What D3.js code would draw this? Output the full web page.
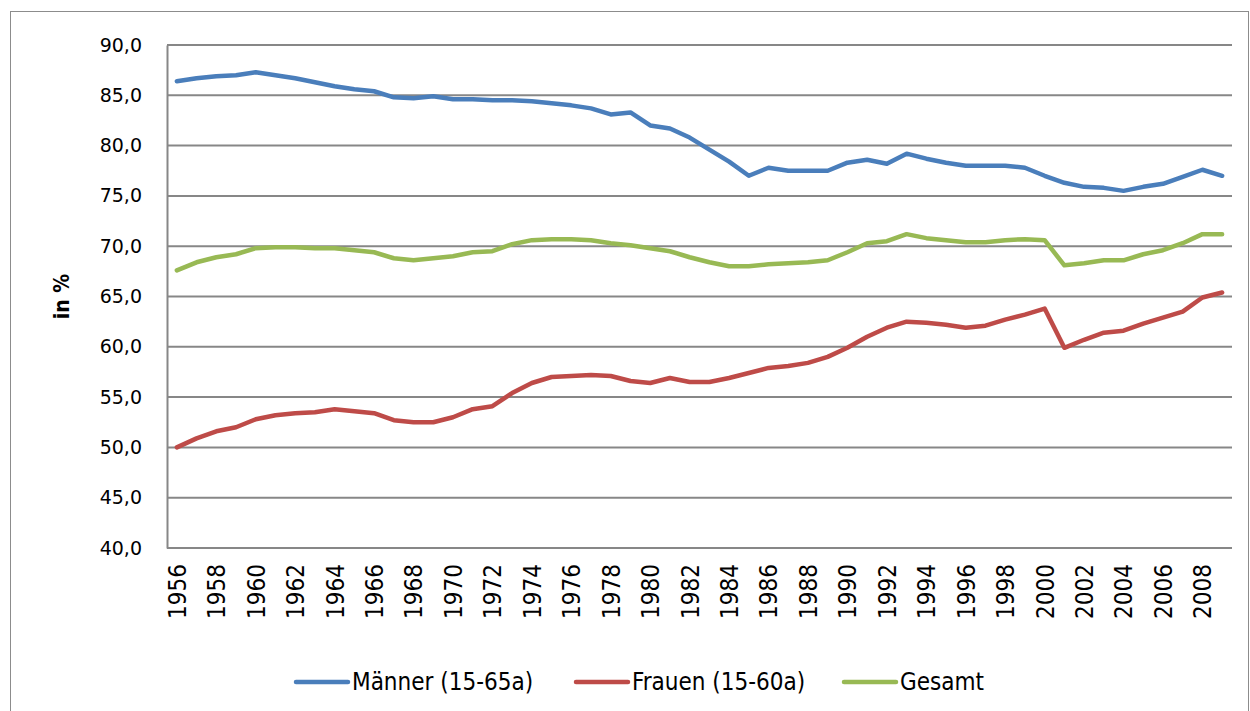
<!DOCTYPE html>
<html>
<head>
<meta charset="utf-8">
<script src="https://cdn.jsdelivr.net/npm/d3@7"></script>
<style>
  body { margin: 0; background: #fff; }
  svg { display: block; }
</style>
</head>
<body>
<div id="chart"></div>
<script>
// Erwerbsquoten 1956-2009
var years = d3.range(1956, 2010);

var maenner = [86.4, 86.7, 86.9, 87.0, 87.3, 87.0, 86.7, 86.3, 85.9, 85.6,
  85.4, 84.8, 84.7, 84.9, 84.6, 84.6, 84.5, 84.5, 84.4, 84.2,
  84.0, 83.7, 83.1, 83.3, 82.0, 81.7, 80.8, 79.6, 78.4, 77.0,
  77.8, 77.5, 77.5, 77.5, 78.3, 78.6, 78.2, 79.2, 78.7, 78.3,
  78.0, 78.0, 78.0, 77.8, 77.0, 76.3, 75.9, 75.8, 75.5, 75.9,
  76.2, 76.9, 77.6, 77.0];

var frauen = [50.0, 50.9, 51.6, 52.0, 52.8, 53.2, 53.4, 53.5, 53.8, 53.6,
  53.4, 52.7, 52.5, 52.5, 53.0, 53.8, 54.1, 55.4, 56.4, 57.0,
  57.1, 57.2, 57.1, 56.6, 56.4, 56.9, 56.5, 56.5, 56.9, 57.4,
  57.9, 58.1, 58.4, 59.0, 59.9, 61.0, 61.9, 62.5, 62.4, 62.2,
  61.9, 62.1, 62.7, 63.2, 63.8, 59.9, 60.7, 61.4, 61.6, 62.3,
  62.9, 63.5, 64.9, 65.4];

var gesamt = [67.6, 68.4, 68.9, 69.2, 69.8, 69.9, 69.9, 69.8, 69.8, 69.6,
  69.4, 68.8, 68.6, 68.8, 69.0, 69.4, 69.5, 70.2, 70.6, 70.7,
  70.7, 70.6, 70.3, 70.1, 69.8, 69.5, 68.9, 68.4, 68.0, 68.0,
  68.2, 68.3, 68.4, 68.6, 69.4, 70.3, 70.5, 71.2, 70.8, 70.6,
  70.4, 70.4, 70.6, 70.7, 70.6, 68.1, 68.3, 68.6, 68.6, 69.2,
  69.6, 70.3, 71.2, 71.2];

var yTicks = [40, 45, 50, 55, 60, 65, 70, 75, 80, 85, 90];
var xLabels = years.filter(function (y) { return (y - 1956) % 2 === 0; });

var seriesNames = ["Männer (15-65a)", "Frauen (15-60a)", "Gesamt"];
var seriesColors = ["#4a7ebb", "#be4b48", "#98b954"];

var width = 1250, height = 711;
var margin = {top: 45, right: 18, bottom: 163, left: 167};

var svg = d3.select("#chart").append("svg")
    .attr("width", width)
    .attr("height", height);

// outer frame
svg.append("rect")
    .attr("x", 10.5).attr("y", 11.5)
    .attr("width", 1238).attr("height", 720)
    .attr("fill", "#fff")
    .attr("stroke", "#8c8c8c")
    .attr("stroke-width", 1);

var x = d3.scalePoint()
    .domain(years)
    .range([margin.left, width - margin.right])
    .padding(0.5);

var y = d3.scaleLinear()
    .domain([40, 90])
    .range([height - margin.bottom, margin.top]);

// horizontal gridlines
svg.append("g")
    .attr("class", "grid")
    .selectAll("line")
    .data(yTicks)
  .enter().append("line")
    .attr("x1", margin.left)
    .attr("x2", width - margin.right)
    .attr("y1", function (d) { return y(d); })
    .attr("y2", function (d) { return y(d); })
    .attr("stroke", "#878787")
    .attr("stroke-width", 2);

// y axis
var yAxis = d3.axisLeft(y)
    .tickValues(yTicks)
    .tickSize(0)
    .tickPadding(25)
    .tickFormat(function (d) { return d3.format(".1f")(d).replace(".", ","); });

var gy = svg.append("g")
    .attr("transform", "translate(" + margin.left + ",0)")
    .call(yAxis);
gy.select(".domain").attr("stroke", "#878787").attr("stroke-width", 2);
gy.selectAll("text")
    .attr("font-family", "DejaVu Sans, Verdana, sans-serif")
    .attr("font-size", 19)
    .attr("fill", "#000");

svg.append("text")
    .attr("transform", "translate(62," + (margin.top + (height - margin.bottom - margin.top) / 2) + ") rotate(-90)")
    .attr("text-anchor", "middle")
    .attr("dy", "0.35em")
    .attr("font-family", "Liberation Sans Narrow, DejaVu Sans Condensed, Open Sans, sans-serif")
    .attr("font-weight", "bold")
    .attr("font-size", 21)
    .text("in %");

// x axis labels
var xAxis = d3.axisBottom(x)
    .tickValues(xLabels)
    .tickSize(0)
    .tickFormat(d3.format("d"));

var gx = svg.append("g")
    .attr("transform", "translate(0," + (height - margin.bottom) + ")")
    .call(xAxis);
gx.select(".domain").remove();
gx.selectAll("text")
    .attr("font-family", "Liberation Sans Narrow, DejaVu Sans Condensed, Open Sans, sans-serif")
    .attr("font-size", 24)
    .attr("fill", "#000")
    .attr("transform", "rotate(-90)")
    .attr("text-anchor", "end")
    .attr("x", -16)
    .attr("y", 0)
    .attr("dy", "0.35em");

// lines
var line = d3.line()
    .x(function (d, i) { return x(years[i]); })
    .y(function (d) { return y(d); });

var allSeries = [maenner, frauen, gesamt];

svg.selectAll(".series")
    .data(allSeries)
  .enter().append("path")
    .attr("class", "series")
    .attr("d", line)
    .attr("fill", "none")
    .attr("stroke", function (d, i) { return seriesColors[i]; })
    .attr("stroke-width", 4.5)
    .attr("stroke-linejoin", "round")
    .attr("stroke-linecap", "round");

// legend
var legendX = [296, 576, 844];
var legend = svg.selectAll(".legend")
    .data(seriesNames)
  .enter().append("g")
    .attr("class", "legend")
    .attr("transform", function (d, i) { return "translate(" + legendX[i] + ",682)"; });

legend.append("line")
    .attr("x1", 0).attr("x2", 52)
    .attr("stroke", function (d, i) { return seriesColors[i]; })
    .attr("stroke-width", 4.5)
    .attr("stroke-linecap", "round");

legend.append("text")
    .attr("x", 56)
    .attr("dy", "0.35em")
    .attr("font-family", "Liberation Sans Narrow, DejaVu Sans Condensed, Open Sans, sans-serif")
    .attr("font-size", 24)
    .text(function (d) { return d; });
</script>
</body>
</html>
